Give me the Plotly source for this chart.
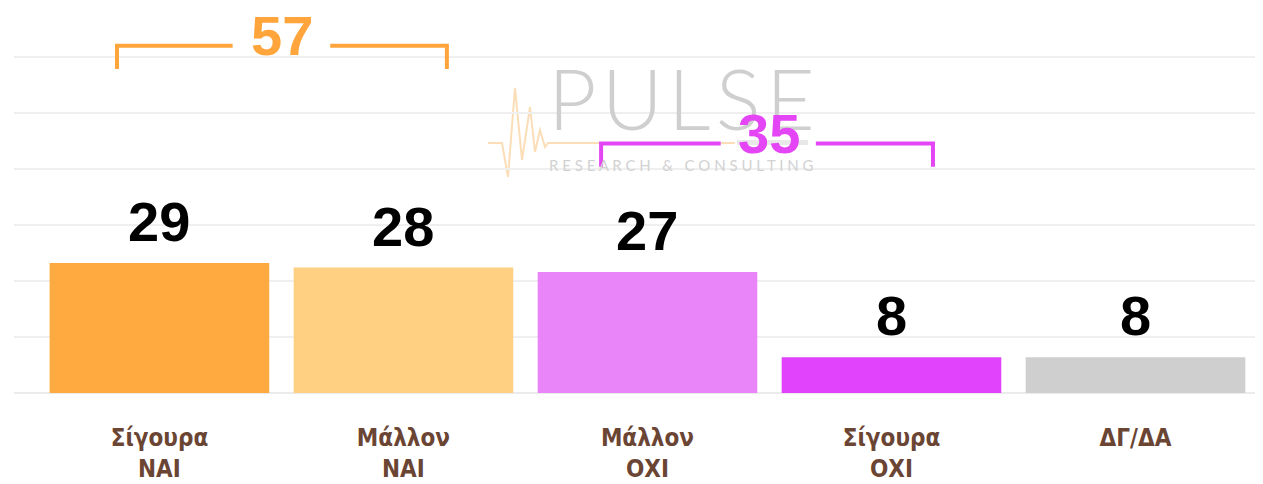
import plotly.graph_objects as go

categories = ["Σίγουρα<br>ΝΑΙ", "Μάλλον<br>ΝΑΙ", "Μάλλον<br>ΟΧΙ", "Σίγουρα<br>ΟΧΙ", "ΔΓ/ΔΑ"]
values = [29, 28, 27, 8, 8]
bar_colors = ["#FFAA40", "#FFD082", "#E985F9", "#E043FB", "#CFCFCF"]

yes_total = 57
no_total = 35

# the page body adds an 8px margin, so the figure is drawn 8px smaller and shifted
OFF = 8
W, H = 1263 - OFF, 484 - OFF
ML, MR, MT, MB = 14 - OFF, 0, 0, 91
PW, PH = W - ML - MR, H - MT - MB
YTOP = 87.5 * PH / 392.0

def px(x, y):
    """reference-image pixel -> paper coords"""
    return (x - OFF - ML) / PW, (H - MB - (y - OFF)) / PH

xs = list(range(len(categories)))
fig = go.Figure()
fig.add_trace(go.Bar(x=xs, y=values, marker=dict(color=bar_colors, line=dict(width=0)),
                     width=0.9, hoverinfo="skip"))

# value labels
for xi, v in zip(xs, values):
    fig.add_annotation(x=xi, y=v, text=f"<b>{v}</b>", showarrow=False, yanchor="bottom",
                       yshift=8, font=dict(family="Liberation Sans, Arial", size=56, color="#000000"))

# watermark logo
ecg = [(488, 143), (502, 143), (508, 177), (515, 88), (522, 160), (530, 107), (535, 152),
       (540, 130), (545, 147), (548, 143), (735, 143)]
path = "M " + " L ".join(f"{px(a,b)[0]},{px(a,b)[1]}" for a, b in ecg)
fig.add_shape(type="path", path=path, xref="paper", yref="paper",
              line=dict(color="#FBDDB8", width=2), layer="below")
x0, y0 = px(737, 140); x1, y1 = px(808, 145)
fig.add_shape(type="rect", x0=x0, x1=x1, y0=y0, y1=y1, xref="paper", yref="paper",
              fillcolor="#E8E8E8", line=dict(width=0), layer="below")
lx, ly = px(682, 98)
fig.add_annotation(x=lx, y=ly, xref="paper", yref="paper", text="P\u200aU\u200aL\u200aS\u200aE", showarrow=False,
                   font=dict(family="Lato", size=84, color="#CFCFCF", weight=300),
                   xanchor="center", yanchor="middle")
rx, ry = px(682, 165)
fig.add_annotation(x=rx, y=ry, xref="paper", yref="paper",
                   text=" ".join("RESEARCH & CONSULTING"), showarrow=False,
                   font=dict(family="Lato", size=15, color="#D2D2D2"),
                   xanchor="center", yanchor="middle")

# brackets
def bracket(xa, xb, ytop, ydrop, gap_l, gap_r, color, label, ytext, xtext):
    fig.add_shape(type="path", xref="x", yref="y",
                  path=f"M {xa},{ytop-ydrop} L {xa},{ytop} L {gap_l},{ytop}",
                  line=dict(color=color, width=4))
    fig.add_shape(type="path", xref="x", yref="y",
                  path=f"M {gap_r},{ytop} L {xb},{ytop} L {xb},{ytop-ydrop}",
                  line=dict(color=color, width=4))
    fig.add_annotation(x=xtext, y=ytext, text=f"<b>{label}</b>", showarrow=False,
                       font=dict(family="Liberation Sans, Arial", size=56, color=color),
                       xanchor="center", yanchor="middle")

bracket(-0.174, 1.178, 77.5, 5.2, 0.3, 0.7, "#FFA53C", yes_total, 79.7, 0.502)
bracket(1.81, 3.17, 55.7, 5.2, 2.3, 2.69, "#E446F5", no_total, 57.9, 2.498)

fig.update_layout(
    width=W, height=H, margin=dict(l=ML, r=MR, t=MT, b=MB, autoexpand=False),
    plot_bgcolor="white", paper_bgcolor="white", showlegend=False,
    xaxis=dict(range=[-0.596, 4.5225], tickmode="array", tickvals=xs, ticktext=categories,
               showgrid=False, zeroline=False, showline=False, ticks="", automargin=False,
               ticklabelstandoff=28,
               tickfont=dict(family="DejaVu Sans Condensed", size=24, color="#6B4534", weight="bold")),
    yaxis=dict(range=[0, YTOP], dtick=12.5, showticklabels=False, gridcolor="#EFEFEF", gridwidth=2,
               automargin=False,
               zeroline=True, zerolinecolor="#EBEBEB", zerolinewidth=2, showline=False),
)
fig.write_html("out.html")
